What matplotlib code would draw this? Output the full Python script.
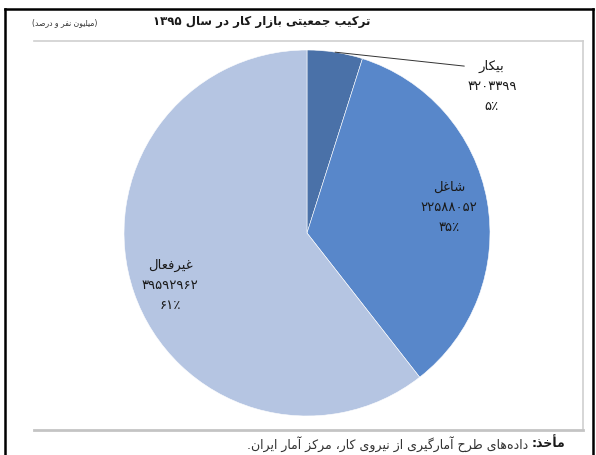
import re
import matplotlib
matplotlib.use('Agg')
import matplotlib.pyplot as plt
from matplotlib.lines import Line2D
import numpy as np

# data
groups = ['بیکار', 'شاغل', 'غیرفعال']
values = [3203399, 22588052, 39592962]
value_labels = ['۳۲۰۳۳۹۹', '۲۲۵۸۸۰۵۲', '۳۹۵۹۲۹۶۲']
pct_labels = ['۵٪', '۳۵٪', '۶۱٪']
colors = ['#4a71a8', '#5887ca', '#b5c5e2']

title = 'ترکیب جمعیتی بازار کار در سال ۱۳۹۵'
unit_note = '(میلیون نفر و درصد)'
source_head = 'مأخذ:'
source_body = 'داده\u200cهای طرح آمارگیری از نیروی کار، مرکز آمار ایران.'

# minimal arabic shaping (no reshaper available in the sandbox)
DUAL = {
    'ب': (0xFE8F, 0xFE90, 0xFE91, 0xFE92), 'ت': (0xFE95, 0xFE96, 0xFE97, 0xFE98),
    'ج': (0xFE9D, 0xFE9E, 0xFE9F, 0xFEA0), 'ح': (0xFEA1, 0xFEA2, 0xFEA3, 0xFEA4),
    'خ': (0xFEA5, 0xFEA6, 0xFEA7, 0xFEA8), 'س': (0xFEB1, 0xFEB2, 0xFEB3, 0xFEB4),
    'ش': (0xFEB5, 0xFEB6, 0xFEB7, 0xFEB8), 'ص': (0xFEB9, 0xFEBA, 0xFEBB, 0xFEBC),
    'ط': (0xFEC1, 0xFEC2, 0xFEC3, 0xFEC4), 'ع': (0xFEC9, 0xFECA, 0xFECB, 0xFECC),
    'غ': (0xFECD, 0xFECE, 0xFECF, 0xFED0), 'ف': (0xFED1, 0xFED2, 0xFED3, 0xFED4),
    'ل': (0xFEDD, 0xFEDE, 0xFEDF, 0xFEE0), 'م': (0xFEE1, 0xFEE2, 0xFEE3, 0xFEE4),
    'ن': (0xFEE5, 0xFEE6, 0xFEE7, 0xFEE8), 'ه': (0xFEE9, 0xFEEA, 0xFEEB, 0xFEEC),
    'ک': (0xFB8E, 0xFB8F, 0xFB90, 0xFB91), 'گ': (0xFB92, 0xFB93, 0xFB94, 0xFB95),
    'ی': (0xFBFC, 0xFBFD, 0xFBFE, 0xFBFF),
}
RIGHT = {
    'ا': (0xFE8D, 0xFE8E), 'آ': (0xFE81, 0xFE82), 'أ': (0xFE83, 0xFE84),
    'د': (0xFEA9, 0xFEAA), 'ذ': (0xFEAB, 0xFEAC), 'ر': (0xFEAD, 0xFEAE),
    'ز': (0xFEAF, 0xFEB0), 'و': (0xFEED, 0xFEEE),
}


def fa(s):
    out = []
    for i, c in enumerate(s):
        if c not in DUAL and c not in RIGHT:
            out.append(c)
            continue
        prev = s[i - 1] if i > 0 else ''
        nxt = s[i + 1] if i + 1 < len(s) else ''
        p = prev in DUAL
        n = c in DUAL and (nxt in DUAL or nxt in RIGHT)
        if c in DUAL:
            f = DUAL[c]
            code = f[3] if p and n else f[1] if p else f[2] if n else f[0]
        else:
            code = RIGHT[c][1] if p else RIGHT[c][0]
        out.append(chr(code))
    vis = ''.join(out).replace('\u200c', '')[::-1]
    vis = re.sub(r'[0-9۰-۹]+', lambda m: m.group(0)[::-1], vis)
    return vis.translate(str.maketrans('()', ')('))


W, H = 596, 455
fig = plt.figure(figsize=(W / 100, H / 100), dpi=100)


def fx(x):
    return x / W


def fy(y):
    return 1 - y / H


# frame lines
def line(x0, y0, x1, y1, **kw):
    fig.add_artist(Line2D([fx(x0), fx(x1)], [fy(y0), fy(y1)],
                          transform=fig.transFigure, **kw))


line(5, 9, 593, 9, color='black', lw=1.8)
line(5, 9, 5, 455, color='black', lw=1.8)
line(593, 9, 593, 455, color='black', lw=1.8)
line(34, 41, 583, 41, color='#cfcfcf', lw=1.2)
line(583, 41, 583, 430, color='#cfcfcf', lw=1.2)
line(34, 430, 583, 430, color='#c4c4c4', lw=2.0)

# pie
ax = fig.add_axes([fx(124), fy(416), fx(490) - fx(124), (416 - 50) / H])
wedges, _ = ax.pie(values, colors=colors, startangle=90, counterclock=False,
                   radius=1, wedgeprops=dict(edgecolor='white', linewidth=0.4))
ax.set_xlim(-1, 1)
ax.set_ylim(-1, 1)
ax.set_aspect('equal')
ax.axis('off')

fp = dict(fontsize=9.5, family='DejaVu Sans', color='#1a1a1a',
          ha='center', va='center', linespacing=1.7)

for i in (1, 2):
    w = wedges[i]
    ang = np.deg2rad((w.theta1 + w.theta2) / 2)
    r = 0.79
    ax.text(r * np.cos(ang), r * np.sin(ang) - (0.03 if i == 2 else 0),
            fa(groups[i]) + '\n' + value_labels[i] + '\n' + pct_labels[i], **fp)

# unemployed label outside, with leader line
w = wedges[0]
ang = np.deg2rad((w.theta1 + w.theta2) / 2)
ax.annotate(fa(groups[0]) + '\n' + value_labels[0] + '\n' + pct_labels[0],
            xy=(np.cos(ang), np.sin(ang)), xytext=(1.01, 0.80),
            textcoords='data', annotation_clip=False,
            arrowprops=dict(arrowstyle='-', color='#333333', lw=0.7,
                            shrinkA=0, shrinkB=0, relpos=(0.0, 0.88)),
            **fp)

# titles
fig.text(fx(262), fy(22), fa(title), fontsize=8.5, fontweight='bold',
         family='DejaVu Sans', ha='center', va='center', color='#1a1a1a')
fig.text(fx(32), fy(23), fa(unit_note), fontsize=5.5, family='DejaVu Sans',
         ha='left', va='center', color='#333333')

# source line (rtl: bold head on the right)
head = fig.text(fx(565), fy(444), fa(source_head), fontsize=9, fontweight='bold',
                family='DejaVu Sans', ha='right', va='center', color='#1a1a1a')
fig.canvas.draw()
bb = head.get_window_extent()
fig.text((bb.x0 - 3) / W, fy(444), fa(source_body), fontsize=9,
         family='DejaVu Sans', ha='right', va='center', color='#333333')

fig.savefig('out.png', dpi=100)
